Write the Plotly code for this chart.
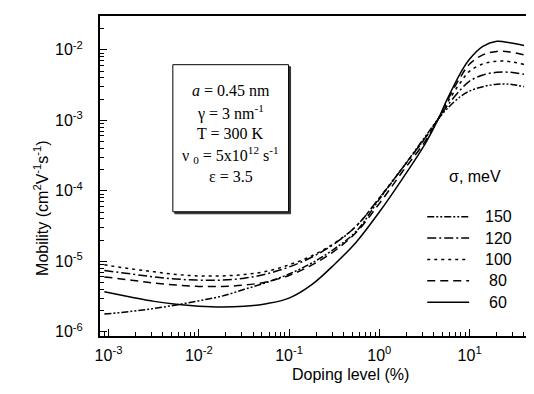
import plotly.graph_objects as go

# Doping level (%)
doping = [0.0009, 0.0018, 0.0032, 0.0056, 0.01, 0.018, 0.032, 0.056, 0.1, 0.18, 0.32,
          0.56, 1.0, 1.8, 3.2, 4.5, 5.6, 8.0, 10, 14, 20, 28, 40]

# Mobility (cm^2 V^-1 s^-1) for each sigma (meV)
mob_150 = [1.78e-6, 1.95e-6, 2.14e-6, 2.4e-6, 2.75e-6, 3.2e-6, 4.0e-6, 5.0e-6, 6.6e-6, 9.5e-6, 1.51e-5,
           2.7e-5, 7.6e-5, 2.1e-4, 5.8e-4, 1.05e-3, 1.45e-3, 2.2e-3, 2.6e-3, 3.0e-3, 3.25e-3, 3.25e-3, 3.0e-3]
mob_120 = [7.4e-6, 6.6e-6, 6.0e-6, 5.6e-6, 5.4e-6, 5.4e-6, 5.75e-6, 6.6e-6, 8.3e-6, 1.15e-5, 1.78e-5,
           3.2e-5, 7.9e-5, 2.1e-4, 5.6e-4, 1.05e-3, 1.58e-3, 2.75e-3, 3.6e-3, 4.4e-3, 4.8e-3, 4.8e-3, 4.5e-3]
mob_100 = [8.9e-6, 7.8e-6, 7.1e-6, 6.5e-6, 6.2e-6, 6.2e-6, 6.5e-6, 7.2e-6, 8.9e-6, 1.2e-5, 1.82e-5,
           3.2e-5, 7.9e-5, 2.1e-4, 5.5e-4, 1.05e-3, 1.74e-3, 3.5e-3, 5.0e-3, 6.3e-3, 6.9e-3, 6.8e-3, 6.2e-3]
mob_80 = [6.0e-6, 5.4e-6, 4.9e-6, 4.6e-6, 4.4e-6, 4.4e-6, 4.6e-6, 5.1e-6, 6.3e-6, 8.9e-6, 1.41e-5,
          2.6e-5, 6.6e-5, 1.86e-4, 5.0e-4, 1.05e-3, 1.86e-3, 4.2e-3, 6.3e-3, 8.5e-3, 9.5e-3, 9.3e-3, 8.5e-3]
mob_60 = [3.7e-6, 3.1e-6, 2.7e-6, 2.45e-6, 2.3e-6, 2.24e-6, 2.3e-6, 2.5e-6, 3.0e-6, 4.7e-6, 9.1e-6,
          1.9e-5, 5.0e-5, 1.48e-4, 4.6e-4, 1.05e-3, 1.95e-3, 4.8e-3, 7.4e-3, 1.12e-2, 1.32e-2, 1.26e-2, 1.15e-2]

sigma_labels = ["150", "120", "100", "80", "60"]
series = [mob_150, mob_120, mob_100, mob_80, mob_60]
dashes = ["7px,2px,2px,2px,2px,2px", "9px,3px,2px,3px", "3px,4px", "8px,5px", "solid"]

x_tickvals = [1e-3, 1e-2, 1e-1, 1, 10]
x_ticktext = ["10<sup>-3</sup>", "10<sup>-2</sup>", "10<sup>-1</sup>", "10<sup>0</sup>", "10<sup>1</sup>"]
y_tickvals = [1e-6, 1e-5, 1e-4, 1e-3, 1e-2]
y_ticktext = ["10<sup>-6</sup>", "10<sup>-5</sup>", "10<sup>-4</sup>", "10<sup>-3</sup>", "10<sup>-2</sup>"]

params = ["<i>a</i> = 0.45 nm", "γ = 3 nm<sup>-1</sup>", "T = 300 K",
          "ν <sub>0</sub> = 5x10<sup>12</sup> s<sup>-1</sup>", "ε = 3.5"]

fig = go.Figure()
for lab, ys, d in zip(sigma_labels, series, dashes):
    fig.add_trace(go.Scatter(x=doping, y=ys, mode="lines", name=lab, line_shape="spline",
                             showlegend=False,
                             line=dict(color="black", width=1.5, dash=d)))

minor_x = [m * 10.0 ** e for e in range(-4, 2) for m in range(2, 10)]
minor_y = [m * 10.0 ** e for e in range(-7, -1) for m in range(2, 10)]

W, H = 534, 394
L, R, T, B = 92, 7, 6, 66
pw, ph = W - L - R, H - T - B

def px(x):
    return (x - L) / pw

def py(y):
    return (H - B - y) / ph

fig.update_layout(
    width=W, height=H,
    margin=dict(l=L, r=R, t=T, b=B),
    paper_bgcolor="white", plot_bgcolor="white",
    font=dict(family="Liberation Sans, Arial, sans-serif", size=16, color="black"),
    showlegend=False,
    xaxis=dict(type="log", range=[-3.094, 1.713], showline=True, linecolor="black", linewidth=2,
               mirror=True, showgrid=False, zeroline=False,
               tickmode="array", tickvals=x_tickvals, ticktext=x_ticktext,
               ticks="inside", ticklen=7, tickwidth=1, tickcolor="black",
               minor=dict(tickmode="array", tickvals=minor_x, ticks="inside", ticklen=4,
                          tickwidth=1, tickcolor="black", showgrid=False),
               tickfont=dict(size=16), ticklabelstandoff=4),
    yaxis=dict(type="log", range=[-6.06, -1.52], showline=True, linecolor="black", linewidth=2,
               mirror=True, showgrid=False, zeroline=False,
               tickmode="array", tickvals=y_tickvals, ticktext=y_ticktext,
               ticks="inside", ticklen=7, tickwidth=1, tickcolor="black",
               minor=dict(tickmode="array", tickvals=minor_y, ticks="inside", ticklen=4,
                          tickwidth=1, tickcolor="black", showgrid=False),
               tickfont=dict(size=16), ticklabelstandoff=12),
)

# legend (key samples + labels)
for i, (lab, d) in enumerate(zip(sigma_labels, dashes)):
    yy = 208 + 21.5 * i
    fig.add_shape(type="line", xref="paper", yref="paper", x0=px(420), x1=px(462), y0=py(yy), y1=py(yy),
                  line=dict(color="black", width=1.5, dash=d))
    fig.add_annotation(text=lab, xref="paper", yref="paper", x=px(491), y=py(yy),
                       showarrow=False, xanchor="center", yanchor="middle", font=dict(size=16))
fig.add_annotation(text="σ, meV", xref="paper", yref="paper", x=px(468), y=py(167),
                   showarrow=False, xanchor="center", yanchor="middle", font=dict(size=16))

# parameter box (shadow + frame)
fig.add_shape(type="rect", xref="paper", yref="paper", x0=px(167), x1=px(283), y0=py(205), y1=py(57),
              line=dict(color="#333", width=1), fillcolor="#333", layer="above")
fig.add_shape(type="rect", xref="paper", yref="paper", x0=px(165), x1=px(281), y0=py(203), y1=py(55),
              line=dict(color="black", width=1), fillcolor="white", layer="above")
for i, t in enumerate(params):
    fig.add_annotation(text=t, xref="paper", yref="paper", x=px(223), y=py(81 + 21.7 * i),
                       showarrow=False, xanchor="center", yanchor="middle",
                       font=dict(family="Liberation Serif, Times New Roman, serif", size=16))

fig.add_annotation(text="Doping level (%)", xref="paper", yref="paper", x=px(343), y=py(367),
                   showarrow=False, xanchor="center", yanchor="middle", font=dict(size=16))
fig.add_annotation(text="Mobility (cm<sup>2</sup>V<sup>-1</sup>s<sup>-1</sup>)", xref="paper", yref="paper",
                   x=px(33), y=py(200), textangle=-90,
                   showarrow=False, xanchor="center", yanchor="middle", font=dict(size=16))

fig.write_html("out.html")
